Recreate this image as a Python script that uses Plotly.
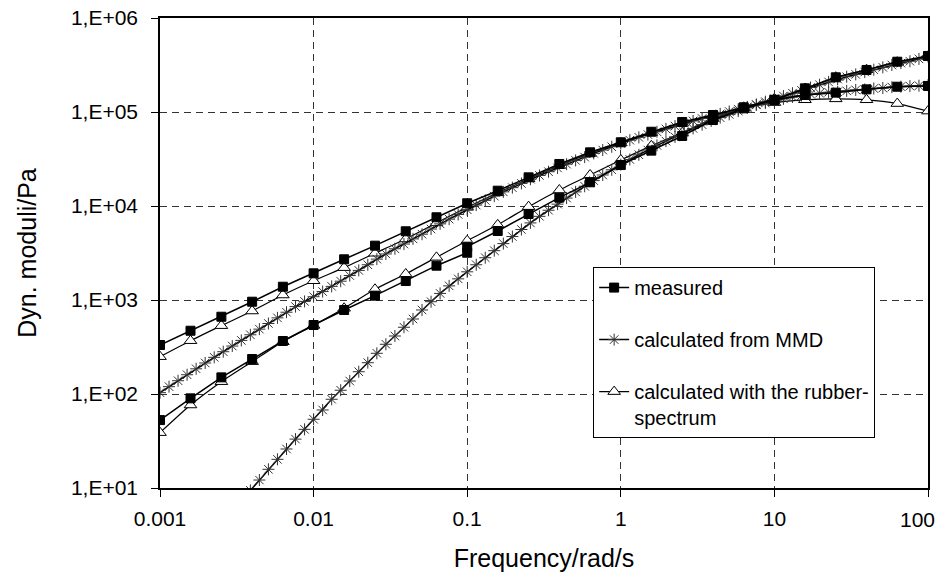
import plotly.graph_objects as go

# ---------------- data ----------------
freq_meas = [0.001, 0.00158, 0.00251, 0.00398, 0.00631, 0.01, 0.0158, 0.0251, 0.0398, 0.0631,
             0.1, 0.158, 0.251, 0.398, 0.631, 1, 1.58, 2.51, 3.98, 6.31,
             10, 15.8, 25.1, 39.8, 63.1, 100]
# measured G' has two overlapping points at 0.1 rad/s
freq_meas_g1 = [0.001, 0.00158, 0.00251, 0.00398, 0.00631, 0.01, 0.0158, 0.0251, 0.0398, 0.0631,
                0.1, 0.1, 0.158, 0.251, 0.398, 0.631, 1, 1.58, 2.51, 3.98, 6.31,
                10, 15.8, 25.1, 39.8, 63.1, 100]

meas_g2 = [332, 471, 664, 959, 1384, 1923, 2710, 3784, 5383, 7586,
           10690, 14550, 20180, 27990, 37240, 47640, 61660, 78340, 92900, 112200,
           134900, 151700, 160700, 174200, 185800, 189200]
meas_g1 = [52.8, 89.9, 150.3, 235.5, 366.4, 542.0, 783.4, 1112, 1592, 2317,
           3184, 3690, 5420, 8222, 12270, 17870, 27290, 38820, 55590, 82220, 109400,
           134300, 178600, 233900, 279900, 342800, 394500]

rub_g2 = [249.5, 369.0, 533.3, 763.8, 1130, 1603, 2208, 3141, 4457, 6607,
          9683, 13800, 19500, 26920, 36310, 46770, 60260, 75860, 91200, 109600,
          125900, 134900, 138000, 134900, 123000, 102300]
rub_g1 = [38.8, 76.4, 135.2, 220.8, 359.7, 537.0, 816.6, 1300, 1892, 2844,
          4276, 6310, 9840, 14790, 21380, 30900, 43650, 60260, 85110, 112200,
          138000, 177800, 234400, 281800, 338800, 389000]

freq_mmd = [0.001, 0.001145, 0.001311, 0.001501, 0.001719, 0.001968, 0.002254, 0.002581, 0.002955,
            0.003384, 0.003875, 0.004437, 0.00508, 0.005817, 0.006661, 0.007627, 0.008733,
            0.01, 0.01145, 0.01311, 0.01501, 0.01719, 0.01968, 0.02254, 0.02581, 0.02955,
            0.03384, 0.03875, 0.04437, 0.0508, 0.05817, 0.06661, 0.07627, 0.08733,
            0.1, 0.1145, 0.1311, 0.1501, 0.1719, 0.1968, 0.2254, 0.2581, 0.2955,
            0.3384, 0.3875, 0.4437, 0.508, 0.5817, 0.6661, 0.7627, 0.8733,
            1.0, 1.145, 1.311, 1.501, 1.719, 1.968, 2.254, 2.581, 2.955,
            3.384, 3.875, 4.437, 5.08, 5.817, 6.661, 7.627, 8.733,
            10.0, 11.45, 13.11, 15.01, 17.19, 19.68, 22.54, 25.81, 29.55,
            33.84, 38.75, 44.37, 50.8, 58.17, 66.61, 76.27, 87.33, 100.0]

mmd_g2 = [103.3, 119.7, 138.4, 160.3, 185.4, 213.8, 245.5, 281.8, 323.6,
          371.5, 426.6, 489.8, 562.3, 645.7, 741.3, 851.1, 966.1,
          1084, 1230, 1396, 1585, 1820, 2065, 2371, 2723, 3090,
          3508, 3936, 4467, 5012, 5689, 6457, 7244, 8128,
          9120, 10230, 11480, 12740, 14130, 15670, 17380, 19280, 21130,
          23170, 25410, 27860, 30550, 33110, 36310, 39360, 42660,
          46240, 50120, 53700, 57540, 61660, 66070, 70790, 75860, 80350,
          85110, 90160, 95500, 101200, 107200, 113500, 118900, 124500,
          131800, 138000, 144500, 149600, 154900, 158500, 162200, 164100, 167900,
          171800, 173800, 177800, 179900, 184100, 186200, 188400, 190500, 192800]

# MMD G' (starts below the visible range at low frequency)
freq_mmd_g1 = freq_mmd[9:]
mmd_g1 = [7.33, 9.44, 12.16, 15.81, 20.18, 26.0, 33.11, 42.07,
          53.83, 67.61, 87.9, 109.6, 137.4, 172.6, 215.3, 271.0, 338.1,
          414.0, 512.9, 628.1, 783.4, 959.4, 1175, 1413, 1679,
          1995, 2371, 2818, 3350, 3981, 4732, 5623, 6607, 7762,
          9016, 10470, 12160, 14130, 16220, 18620, 21380, 24270,
          27540, 31260, 35080, 39360, 44160, 48980, 54330, 60260, 66830,
          73280, 80350, 87100, 94410, 102300, 110900, 120200, 128800,
          138000, 147900, 158500, 169800, 182000, 195000, 208900, 223900, 237100,
          251200, 266100, 281800, 298500, 316200, 331100, 346700, 367300, 389000]

x_tickvals = [0.001, 0.01, 0.1, 1, 10, 100]
x_ticktext = ["0.001", "0.01", "0.1", "1", "10", "100"]
y_tickvals = [1e1, 1e2, 1e3, 1e4, 1e5, 1e6]
y_ticktext = ["1,E+01", "1,E+02", "1,E+03", "1,E+04", "1,E+05", "1,E+06"]

names = ["measured", "calculated from MMD", "calculated with the rubber-<br>spectrum"]

FONT = "Liberation Sans, Arial, sans-serif"

fig = go.Figure()

# rubber spectrum (triangles)
tri_marker = dict(symbol="triangle-up", size=11, color="white", line=dict(color="black", width=1))
fig.add_trace(go.Scatter(x=freq_meas, y=rub_g2, mode="lines+markers", name=names[2],
                         legendgroup="c", legendrank=3, showlegend=True,
                         line=dict(color="black", width=1.2, shape="spline", smoothing=0.6),
                         marker=tri_marker))
fig.add_trace(go.Scatter(x=freq_meas, y=rub_g1, mode="lines+markers", name=names[2],
                         legendgroup="c", legendrank=3, showlegend=False,
                         line=dict(color="black", width=1.2, shape="spline", smoothing=0.6),
                         marker=tri_marker))

# MMD (stars)
star_marker = dict(symbol="asterisk-open", size=10, color="#333333", line=dict(color="#333333", width=1))
fig.add_trace(go.Scatter(x=freq_mmd, y=mmd_g2, mode="lines+markers", name=names[1],
                         legendgroup="b", legendrank=2, showlegend=True,
                         line=dict(color="black", width=1.5), marker=star_marker))
fig.add_trace(go.Scatter(x=freq_mmd_g1, y=mmd_g1, mode="lines+markers", name=names[1],
                         legendgroup="b", legendrank=2, showlegend=False,
                         line=dict(color="black", width=1.5), marker=star_marker))

# measured (squares)
sq_marker = dict(symbol="square", size=9, color="black", line=dict(color="black", width=1))
fig.add_trace(go.Scatter(x=freq_meas, y=meas_g2, mode="lines+markers", name=names[0],
                         legendgroup="a", legendrank=1, showlegend=True,
                         line=dict(color="black", width=1.5), marker=sq_marker))
fig.add_trace(go.Scatter(x=freq_meas_g1, y=meas_g1, mode="lines+markers", name=names[0],
                         legendgroup="a", legendrank=1, showlegend=False,
                         line=dict(color="black", width=1.5), marker=sq_marker))

axis_common = dict(
    type="log", showline=True, linecolor="black", linewidth=1.5, mirror=True,
    ticks="outside", ticklen=7, tickcolor="black", tickwidth=1,
    showgrid=True, gridcolor="#333333", gridwidth=1, griddash="7px,5px",
    zeroline=False, automargin=False, ticklabeloverflow="allow",
    tickfont=dict(family=FONT, size=21, color="black"),
)

# the last x label would run past the visible page edge, so it is drawn
# as an annotation kept just inside the figure
x_ticktext_drawn = x_ticktext[:-1] + [""]

# the page body adds an 8 px margin; the figure is sized so the page does not scroll
fig.update_layout(
    width=938, height=564, autosize=False,
    margin=dict(l=152, r=18, t=10, b=84),
    paper_bgcolor="white", plot_bgcolor="white",
    font=dict(family=FONT, color="black"),
    xaxis=dict(axis_common, range=[-3, 2], tickvals=x_tickvals, ticktext=x_ticktext_drawn,
               ticklabelstandoff=4,
               title=dict(text="Frequency/rad/s", font=dict(family=FONT, size=25), standoff=23)),
    yaxis=dict(axis_common, range=[1, 6], tickvals=y_tickvals, ticktext=y_ticktext,
               ticklabelstandoff=9,
               title=dict(text="Dyn. moduli/Pa", font=dict(family=FONT, size=25), standoff=27)),
    legend=dict(x=0.564, y=0.47, xanchor="left", yanchor="top",
                bgcolor="white", bordercolor="black", borderwidth=1,
                font=dict(family=FONT, size=20, color="black"),
                tracegroupgap=23, valign="top", traceorder="grouped"),
    showlegend=True,
    annotations=[dict(text=x_ticktext[-1], xref="paper", yref="paper",
                      x=1.0113, y=-0.066, xanchor="right", yanchor="middle",
                      showarrow=False, font=dict(family=FONT, size=21, color="black"))],
)

fig.write_html("out.html")
